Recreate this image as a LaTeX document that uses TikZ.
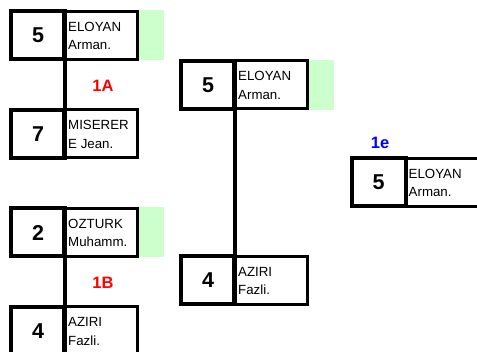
\documentclass[tikz,border=0pt]{standalone}
\usepackage{fontspec}
\setmainfont{Liberation Sans}
\begin{document}
\begin{tikzpicture}[x=1pt,y=-1pt,
  numbox/.style={draw=black, line width=4pt, minimum width=54pt, minimum height=48pt,
    inner sep=0pt, outer sep=0pt, font=\bfseries\fontsize{21.5}{21.5}\selectfont},
  namebox/.style={draw=black, line width=3pt, minimum width=74pt, minimum height=48pt,
    inner sep=0pt, outer sep=0pt},
  greenbox/.style={draw=none, minimum width=25pt, minimum height=50pt,
    inner sep=0pt, outer sep=0pt},
  nametxt/.style={anchor=north west, inner sep=0pt, align=left,
    font=\fontsize{13.3}{18.5}\selectfont},
  conn/.style={draw=black, line width=4pt},
  redlbl/.style={text=red, font=\bfseries\fontsize{16.5}{16.5}\selectfont, inner sep=0pt},
  bluelbl/.style={text=blue, font=\bfseries\fontsize{16.5}{16.5}\selectfont, inner sep=0pt}
]
\useasboundingbox (0,0) rectangle (477,352);
\definecolor{lgreen}{RGB}{204,255,204}
\tikzset{greenbox/.append style={fill=lgreen}}

% green cells
\node[greenbox] (g1) at (151.5,35.5) {};
\node[greenbox] (g3) at (151.5,232.5) {};
\node[greenbox] (g5) at (321.5,85) {};

% column 1
\node[namebox] (m1) at (100.5,35.5) {};
\node[numbox] (n1) at (38,35.5) {5};
\node[nametxt] (t1) at ([xshift=4.5pt,yshift=-10.2pt]m1.north west) {ELOYAN\\Arman.};

\node[namebox] (m2) at (100.5,134) {};
\node[numbox] (n2) at (38,134) {7};
\node[nametxt] (t2) at ([xshift=4.5pt,yshift=-10.2pt]m2.north west) {MISERER\\E Jean.};

\node[namebox] (m3) at (100.5,232.5) {};
\node[numbox] (n3) at (38,232.5) {2};
\node[nametxt] (t3) at ([xshift=4.5pt,yshift=-10.2pt]m3.north west) {OZTURK\\Muhamm.};

\node[namebox] (m4) at (100.5,331) {};
\node[numbox] (n4) at (38,331) {4};
\node[nametxt] (t4) at ([xshift=4.5pt,yshift=-10.2pt]m4.north west) {AZIRI\\Fazli.};

\draw[conn] (n1.south east) -- (n2.north east);
\draw[conn] (n3.south east) -- (n4.north east);
\node[redlbl] (l1) at (103,86) {1A};
\node[redlbl] (l2) at (103,283) {1B};

% column 2
\node[namebox] (m5) at (270.5,85) {};
\node[numbox] (n5) at (208,85) {5};
\node[nametxt] (t5) at ([xshift=4.5pt,yshift=-10.2pt]m5.north west) {ELOYAN\\Arman.};

\node[namebox] (m6) at (270.5,280.5) {};
\node[numbox] (n6) at (208,280.5) {4};
\node[nametxt] (t6) at ([xshift=4.5pt,yshift=-10.2pt]m6.north west) {AZIRI\\Fazli.};

\draw[conn] (n5.south east) -- (n6.north east);

% column 3
\node[bluelbl] (l3) at (380,143) {1e};
\node[namebox] (m7) at (442.5,182.5) {};
\node[numbox] (n7) at (378.5,182.5) {5};
\node[nametxt] (t7) at ([xshift=3pt,yshift=-10.2pt]m7.north west) {ELOYAN\\Arman.};
\end{tikzpicture}
\end{document}
